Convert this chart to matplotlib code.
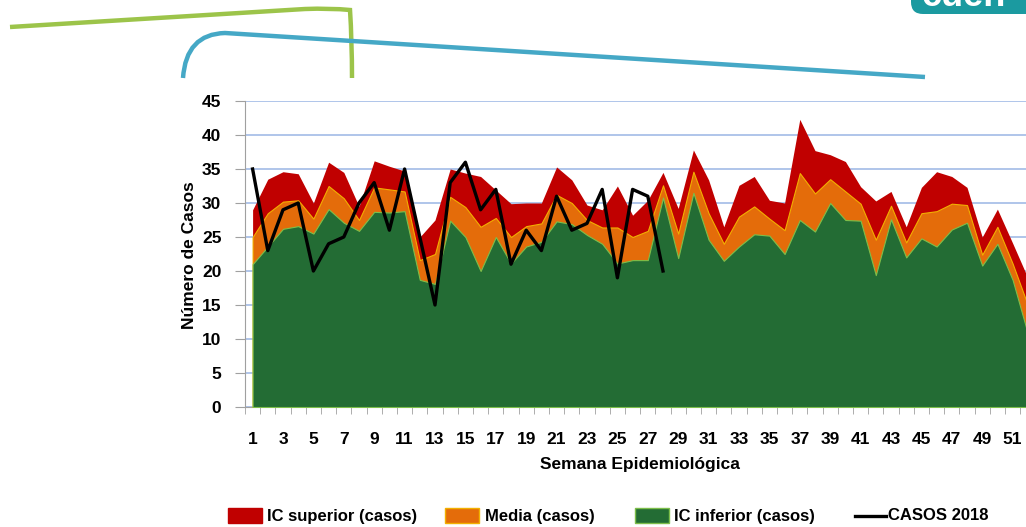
import matplotlib.pyplot as plt
import matplotlib.patches as mpatches
from matplotlib.path import Path
import numpy as np

plt.rcParams['font.family'] = ['Liberation Sans', 'DejaVu Sans']

semanas = list(range(1, 53))
ic_superior = [29, 33.5, 34.6, 34.3, 30, 36, 34.5, 29.5, 36.2, 35.4,
               34.7, 25, 27.5, 35, 34.4, 33.9, 31.9, 29.9, 30, 30,
               35.3, 33.4, 29.7, 29, 32.5, 28.2, 30.4, 34.5, 29.2, 37.8,
               33.4, 26.5, 32.6, 33.9, 30.4, 30, 42.3, 37.7, 37.1, 36.1,
               32.4, 30.3, 31.7, 26.5, 32.3, 34.6, 33.9, 32.3, 25, 29.1,
               24.1, 19]
media = [25, 28.5, 30.2, 30.4, 27.7, 32.5, 30.7, 27.5, 32.3, 32,
         31.7, 21.6, 22.5, 30.9, 29.4, 26.5, 27.8, 25, 26.6, 27,
         31.2, 30, 27.5, 26.4, 26.4, 25, 25.9, 32.6, 25.5, 34.6,
         28.5, 24, 28, 29.5, 27.7, 26, 34.4, 31.4, 33.5, 31.7,
         29.9, 24.6, 29.6, 24.2, 28.5, 28.8, 29.9, 29.7, 22.4, 26.5,
         21.1, 15]
ic_inferior = [21, 23.6, 26.2, 26.6, 25.5, 29.1, 27.1, 25.9, 28.7, 28.6,
               28.8, 18.7, 18.1, 27.4, 25, 20, 25, 21.1, 23.6, 24.3,
               27.3, 26.9, 25.3, 24, 21.1, 21.6, 21.6, 30.8, 21.9, 31.5,
               24.6, 21.5, 23.6, 25.4, 25.2, 22.5, 27.5, 25.8, 30, 27.5,
               27.4, 19.4, 27.6, 22, 24.8, 23.6, 26.1, 27.1, 20.8, 24,
               18.7, 10.8]
semanas_2018 = list(range(1, 29))
casos_2018 = [35, 23, 29, 30, 20, 24, 25, 30, 33, 26,
              35, 25, 15, 33, 36, 29, 32, 21, 26, 23,
              31, 26, 27, 32, 19, 32, 31, 20]

etiquetas = ['IC superior (casos)', 'Media (casos)', 'IC inferior (casos)', 'CASOS 2018']
c_rojo, c_naranja, c_verde = '#C00000', '#E46C0A', '#236C34'

W, H = 1026, 527
fig = plt.figure(figsize=(W / 100, H / 100), dpi=100)

# decorative curves at the top + legend drawn in pixel coords
deco = fig.add_axes([0, 0, 1, 1])
deco.set_xlim(0, W)
deco.set_ylim(H, 0)
deco.axis('off')
green_path = Path([(10, 27), (305, 9), (330, 8), (350, 10), (352, 40), (352, 78)],
                  [Path.MOVETO, Path.LINETO, Path.CURVE3, Path.CURVE3, Path.CURVE3, Path.CURVE3])
deco.add_patch(mpatches.PathPatch(green_path, fill=False, lw=3.2, color='#9CC44A', capstyle='butt'))
blue_path = Path([(183, 78), (186, 34), (225, 33), (925, 77)],
                 [Path.MOVETO, Path.CURVE3, Path.CURVE3, Path.LINETO])
deco.add_patch(mpatches.PathPatch(blue_path, fill=False, lw=3.2, color='#45A8C6', capstyle='butt'))
deco.add_patch(mpatches.FancyBboxPatch((911, -20), 140, 34, boxstyle='round,pad=0,rounding_size=12',
                                       color='#1B9AA0', lw=0))
deco.text(922, -4, 'cuen', color='white', fontsize=26, fontweight='bold', va='center', ha='left')

# legend
leg_y = 516
for x0, fc, ec in [(228, c_rojo, c_rojo), (445, c_naranja, '#F2B000'), (635, c_verde, '#7DBE4A')]:
    deco.add_patch(mpatches.Rectangle((x0, leg_y - 8), 34, 15, facecolor=fc, edgecolor=ec, lw=1))
deco.plot([855, 886], [leg_y, leg_y], color='black', lw=2.4)
for x0, txt in zip([267, 485, 674, 888], etiquetas):
    deco.text(x0, leg_y, txt, fontsize=12, fontweight='bold', va='center', ha='left')

ax = fig.add_axes([245 / W, 120 / H, 790.4 / W, 306 / H])
ax.fill_between(semanas, ic_superior, color=c_rojo, lw=0, zorder=2)
ax.fill_between(semanas, media, color=c_naranja, edgecolor='#F2B000', lw=0.8, zorder=3)
ax.fill_between(semanas, ic_inferior, color=c_verde, edgecolor='#7DBE4A', lw=0.8, zorder=4)
ax.plot(semanas_2018, casos_2018, color='black', lw=2.4, zorder=5)

ax.set_xlim(0.5, 52.5)
ax.set_ylim(0, 45)
ax.set_yticks(range(0, 46, 5))
ax.set_xticks(range(1, 53, 2))
ax.set_xticks(np.arange(0.5, 53, 1), minor=True)
ax.tick_params(axis='x', which='major', length=0, pad=18, labelsize=12.5)
ax.tick_params(axis='x', which='minor', length=5, color='#A0A0A0', direction='out')
ax.tick_params(axis='y', length=7, color='#A0A0A0', labelsize=12.5, pad=10)
for lab in ax.get_xticklabels() + ax.get_yticklabels():
    lab.set_fontweight('bold')
ax.grid(axis='y', color='#A9C0E8', lw=1.3, zorder=1)
ax.set_axisbelow(True)
for s in ['top', 'right']:
    ax.spines[s].set_visible(False)
ax.spines['left'].set_color('#A0A0A0')
ax.spines['bottom'].set_color('#A0A0A0')
ax.set_ylabel('Número de Casos', fontsize=12.5, fontweight='bold')
ax.set_xlabel('Semana Epidemiológica', fontsize=12.5, fontweight='bold')
ax.yaxis.set_label_coords(-(245 - 190) / 790.4, (407 - 255) / 306)
ax.xaxis.set_label_coords((640 - 245) / 790.4, -(465 - 407) / 306)
ax.xaxis.label.set_va('center')
ax.yaxis.label.set_va('center')

fig.savefig('out.png', dpi=100)
